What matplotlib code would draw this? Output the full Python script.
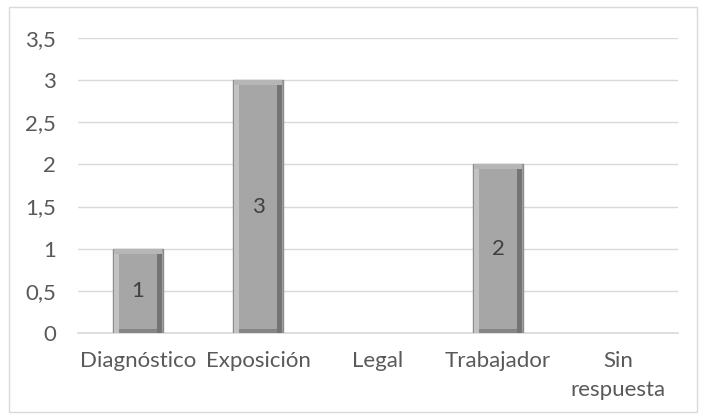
import matplotlib
matplotlib.use("Agg")
import matplotlib.pyplot as plt
from matplotlib.patches import Rectangle

categories = ["Diagnóstico", "Exposición", "Legal", "Trabajador", "Sin\nrespuesta"]
values = [1, 3, 0, 2, 0]
ytick_values = [0, 0.5, 1, 1.5, 2, 2.5, 3, 3.5]
ytick_labels = ["0", "0,5", "1", "1,5", "2", "2,5", "3", "3,5"]

plt.rcParams['font.family'] = ['Lato', 'DejaVu Sans']
text_color = "#595959"
FS = 16

fig = plt.figure(figsize=(7.02, 4.19), dpi=100)
fig.patches.append(Rectangle((9/702, 1-412/419), 688/702, 405/419, transform=fig.transFigure,
                             fill=False, edgecolor="#D9D9D9", linewidth=1))
ax = fig.add_axes([78/702, 1-333/419, 600/702, 295/419])

x = list(range(len(categories)))
width = 0.41
shown = [(i, v) for i, v in zip(x, values) if v > 0]
bars = ax.bar([i for i, _ in shown], [v for _, v in shown], width=width,
              color="#A6A6A6", edgecolor="#8C8C8C", linewidth=1.0, zorder=3)
bx_px = 1/120.0
by_px = 1/84.3
for b in bars:
    bx, bw, bh = b.get_x(), b.get_width(), b.get_height()
    bev_x = 5 * bx_px
    bev_y = 5 * by_px
    # top bevel
    ax.bar(bx + bw/2, bev_y, width=bw - 2*bx_px, bottom=bh - bev_y, color="#B6B6B6", linewidth=0, zorder=4)
    # left bevel
    ax.bar(bx + bev_x/2 + bx_px, bh - bev_y, width=bev_x, bottom=0, color="#C2C2C2", linewidth=0, zorder=4)
    # right bevel
    ax.bar(bx + bw - bev_x/2 - bx_px, bh - bev_y, width=bev_x, bottom=0, color="#747474", linewidth=0, zorder=4)
    # bottom bevel
    ax.bar(bx + bw/2, bev_y*0.8, width=bw - 2*bev_x - 2*bx_px, bottom=0, color="#858585", linewidth=0, zorder=4)
    ax.text(bx + bw/2, bh/2, f"{int(bh)}", ha="center", va="center", fontsize=FS,
            color="#404040", zorder=5)

ax.set_xlim(-0.5, len(categories) - 0.5)
ax.set_ylim(0, 3.5)
ax.set_yticks(ytick_values)
ax.set_yticklabels(ytick_labels)
ax.set_xticks(x)
ax.set_xticklabels(categories, linespacing=1.55)
ax.tick_params(axis="both", length=0, labelsize=FS, colors=text_color)
ax.tick_params(axis="y", pad=16)
ax.tick_params(axis="x", pad=13)
ax.yaxis.grid(True, color="#D9D9D9", linewidth=1, zorder=0)
ax.set_axisbelow(True)
for s in ["top", "right", "left"]:
    ax.spines[s].set_visible(False)
ax.spines["bottom"].set_color("#D9D9D9")
ax.spines["bottom"].set_linewidth(1.2)

fig.savefig("out.png", dpi=100)
